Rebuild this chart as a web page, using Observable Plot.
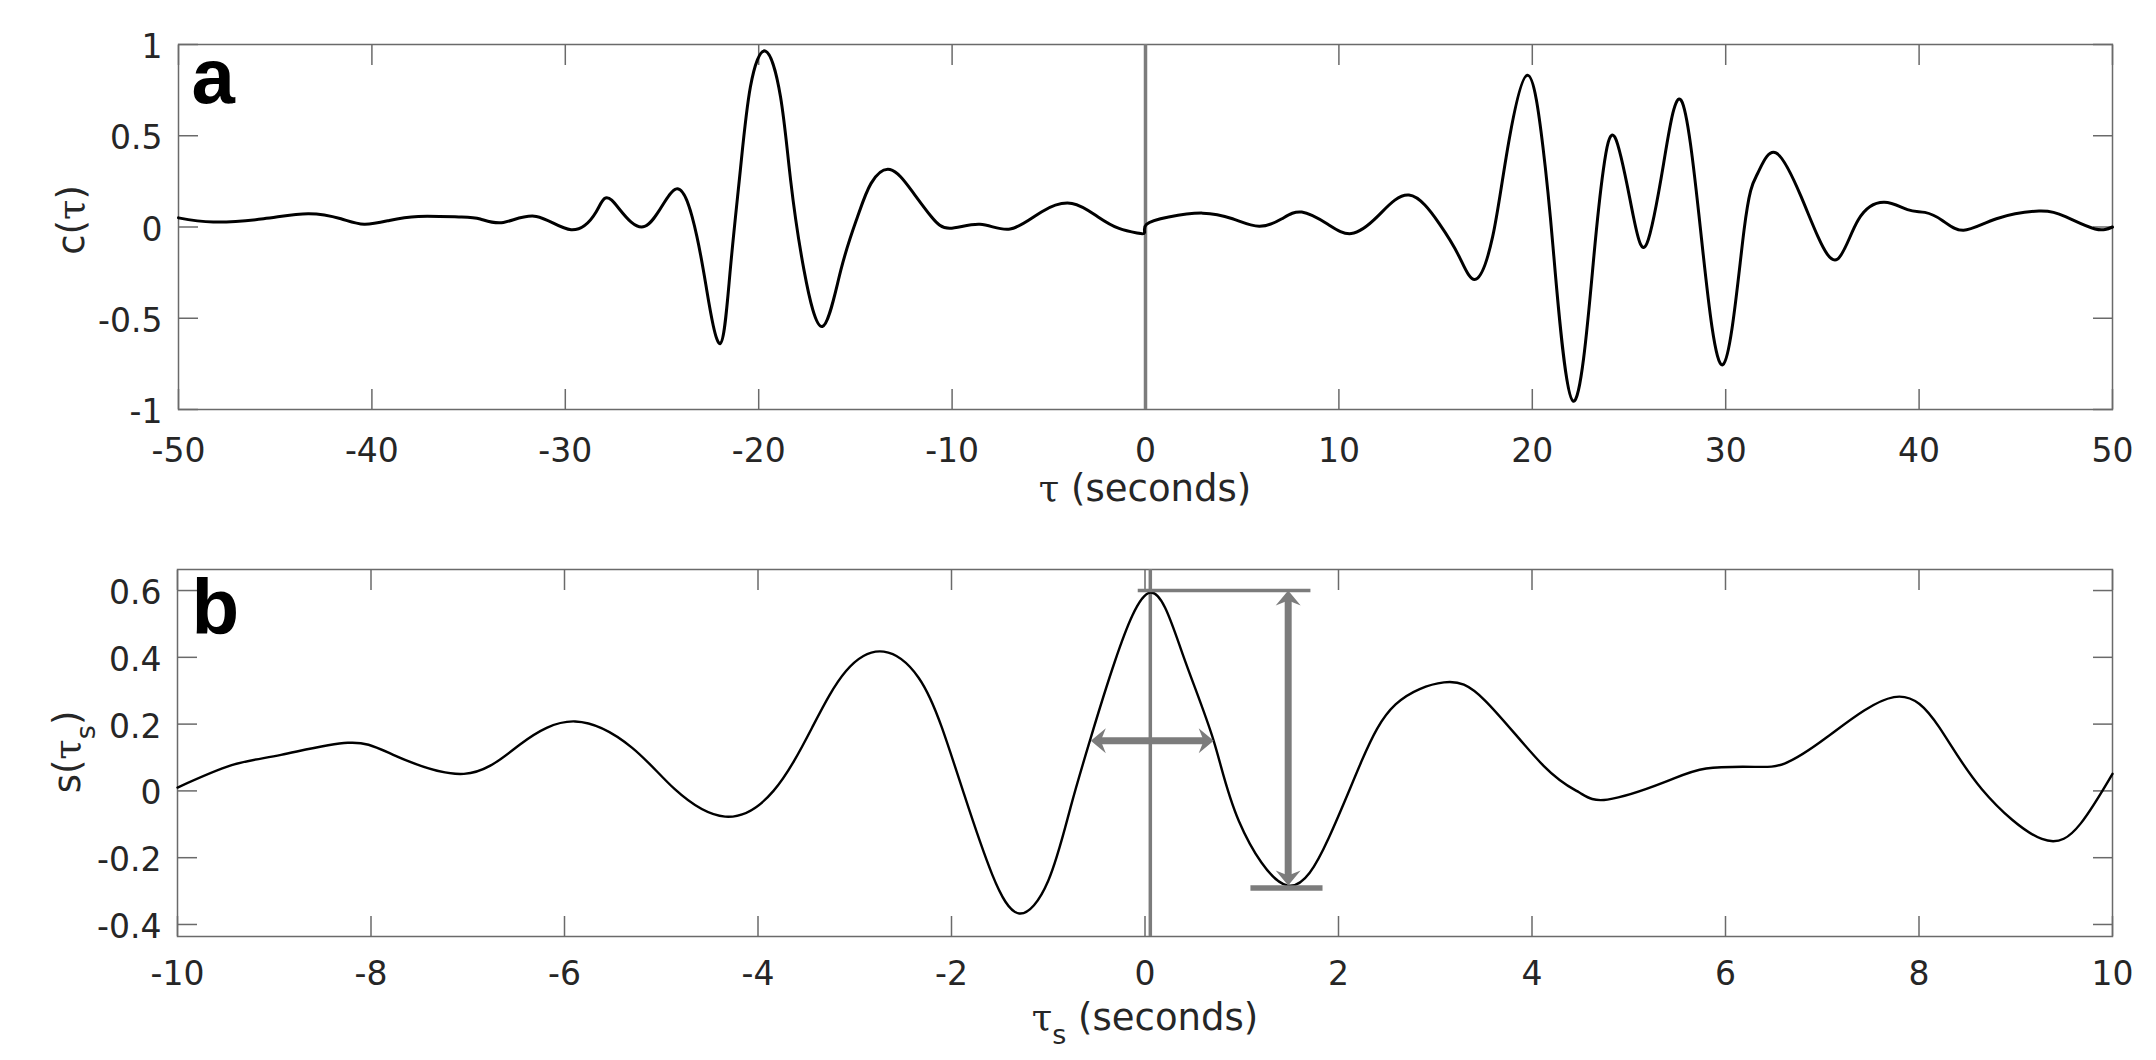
<!DOCTYPE html>
<html>
<head>
<meta charset="utf-8">
<script src="https://cdn.jsdelivr.net/npm/d3@7"></script>
<script src="https://cdn.jsdelivr.net/npm/@observablehq/plot@0.6"></script>
<style>
  html, body { margin: 0; padding: 0; background: #fff; }
  #chart { position: relative; width: 2156px; height: 1060px; overflow: hidden; background: #fff; }
  #chart svg { position: absolute; left: 0; }
</style>
</head>
<body>
<div id="chart"></div>
<script>
// ---------------- data ----------------
// Panel a: c(tau)
const tauA = [
  -50, -48.2, -45.6, -43.3, -41.6, -40.4, -39.1, -37.6, -35.5, -34.4,
  -33.2, -31.5, -29.7, -28.4, -27.6, -25.9, -24.25, -23.2, -22.69, -21.99,
  -21.47, -20.95, -20.43, -19.65, -18.87, -18.35, -17.66, -16.71, -15.75, -14.89,
  -14.19, -13.21, -12.11, -11.07, -10.12, -8.56, -7.0, -5.36, -3.8, -2.45,
  -1.37, -0.44, -0.05, 0.05, 1.2, 2.96, 4.5, 5.88, 7.05, 8.08,
  9.43, 10.64, 12.0, 13.62, 15.18, 16.22, 17.09, 17.95, 18.65, 19.74,
  20.55, 21.07, 22.11, 23.15, 23.67, 24.28, 25.23, 25.93, 26.79, 27.7,
  28.7, 29.86, 30.95, 31.65, 32.6, 33.9, 34.77, 35.77, 36.85, 38.2,
  39.4, 40.3, 41.2, 42.3, 44.0, 46.2, 47.6, 49.1, 50
];
const cA = [
  0.05, 0.027, 0.045, 0.073, 0.045, 0.015, 0.036, 0.058, 0.055, 0.044,
  0.025, 0.058, -0.015, 0.084, 0.147, 0.003, 0.209, -0.05, -0.344, -0.639,
  -0.235, 0.311, 0.767, 0.964, 0.712, 0.257, -0.235, -0.545, -0.235, 0.056,
  0.239, 0.315, 0.202, 0.056, -0.007, 0.015, -0.011, 0.084, 0.129, 0.055,
  -0.008, -0.033, -0.031, 0.015, 0.055, 0.076, 0.045, 0.004, 0.045, 0.082,
  0.015, -0.036, 0.058, 0.175, 0.02, -0.162, -0.286, -0.053, 0.384, 0.831,
  0.439, -0.107, -0.954, -0.199, 0.311, 0.49, 0.056, -0.089, 0.348, 0.694,
  -0.016, -0.754, -0.016, 0.293, 0.406, 0.166, -0.053, -0.177, 0.038, 0.135,
  0.095, 0.08, 0.036, -0.018, 0.045, 0.087, 0.055, -0.011, 0.0
];
// Panel b: s(tau_s)
const tauB = [
  -10, -9.44, -8.93, -8.24, -7.77, -7.04, -6.46, -5.89, -5.30, -4.86,
  -4.34, -3.84, -3.44, -3.09, -2.70, -2.34, -2.10, -1.87, -1.58, -1.30,
  -1.00, -0.77, -0.57, -0.31, 0.055, 0.39, 0.71, 0.97, 1.47, 1.90,
  2.24, 2.59, 3.09, 3.52, 4.12, 4.49, 4.78, 5.37, 5.80,
  6.31, 6.61, 7.04, 7.74, 8.21, 8.65, 9.27, 9.67, 10
];
const sB = [
  0.01, 0.077, 0.108, 0.144, 0.108, 0.051, 0.139, 0.208, 0.129, 0.005,
  -0.077, 0.0, 0.19, 0.359, 0.417, 0.339, 0.19, -0.01, -0.25, -0.367,
  -0.269, -0.05, 0.15, 0.389, 0.594, 0.409, 0.15, -0.09, -0.283, -0.14,
  0.09, 0.259, 0.325, 0.269, 0.075, -0.005, -0.026, 0.026, 0.067,
  0.072, 0.082, 0.159, 0.281, 0.19, 0.005, -0.144, -0.098, 0.051
];
// ticks and domains
const xTicksA = [-50, -40, -30, -20, -10, 0, 10, 20, 30, 40, 50];
const yTicksA = [-1, -0.5, 0, 0.5, 1];
const xDomainA = [-50, 50];
const yDomainA = [-1, 1];
const xTicksB = [-10, -8, -6, -4, -2, 0, 2, 4, 6, 8, 10];
const yTicksB = [-0.4, -0.2, 0, 0.2, 0.4, 0.6];
const xDomainB = [-10, 10];
const yDomainB = [-0.436, 0.663];
// reference lines and annotations (data units)
const zeroLineA = [0];
const peakLineB = [0.055];
const topBar = [{y: 0.6, x1: -0.07, x2: 1.715}];
const bottomBar = [{y: -0.291, x1: 1.095, x2: 1.84}];
const ampArrow = [{x: 1.48, y1: 0.6, y2: -0.283}];
const widthArrow = [{y: 0.15, x1: -0.56, x2: 0.71}];
const panelLabels = {a: "a", b: "b"};

// ---------------- styles ----------------
const W = 2156;
const frameColor = "#6a6a6a";
const textColor = "#262626";
const annoColor = "#7c7c7c";
const tickFont = "DejaVu Sans";
const fmt = d => String(d);

// filled arrowhead symbol (tip at the data point)
function arrowHead(angle) {
  return {
    draw(ctx) {
      const L = 15, Wd = 12.5, N = 10;
      const pts = [[0, 0], [Wd, L], [0, N], [-Wd, L]];
      const c = Math.cos(angle), s = Math.sin(angle);
      pts.forEach(([px, py], i) => {
        const x = px * c - py * s, y = px * s + py * c;
        if (i) ctx.lineTo(x, y); else ctx.moveTo(x, y);
      });
      ctx.closePath();
    }
  };
}
const headUp = arrowHead(0), headDown = arrowHead(Math.PI);
const headLeft = arrowHead(-Math.PI / 2), headRight = arrowHead(Math.PI / 2);

function boxAxes(xTicks, yTicks, padX, padY) {
  return [
    Plot.axisX({ticks: xTicks, tickSize: -20, fill: "none", stroke: frameColor, strokeWidth: 1.5}),
    Plot.axisX({anchor: "top", ticks: xTicks, tickSize: -20, fill: "none", stroke: frameColor, strokeWidth: 1.5}),
    Plot.axisY({ticks: yTicks, tickSize: -20, fill: "none", stroke: frameColor, strokeWidth: 1.5}),
    Plot.axisY({anchor: "right", ticks: yTicks, tickSize: -20, fill: "none", stroke: frameColor, strokeWidth: 1.5}),
    Plot.axisX({ticks: xTicks, tickSize: 0, tickPadding: padX, tickFormat: fmt, label: null, fill: textColor}),
    Plot.axisY({ticks: yTicks, tickSize: 0, tickPadding: padY, tickFormat: fmt, label: null, fill: textColor, dy: 3}),
    Plot.frame({stroke: frameColor, strokeWidth: 1.5})
  ];
}

const baseStyle = {fontFamily: tickFont, fontSize: "33px", color: textColor, background: "white", overflow: "visible"};

// ---------------- panel a ----------------
const rowsA = tauA.map((t, i) => ({t, c: cA[i]}));
const plotA = Plot.plot({
  width: W, height: 520,
  marginLeft: 178, marginRight: 44, marginTop: 44, marginBottom: 111,
  x: {domain: xDomainA},
  y: {domain: yDomainA},
  style: baseStyle,
  marks: [
    ...boxAxes(xTicksA, yTicksA, 29, 16),
    Plot.ruleX(zeroLineA, {stroke: annoColor, strokeWidth: 3.5}),
    Plot.line(rowsA, {x: "t", y: "c", curve: "natural", stroke: "#000", strokeWidth: 3}),
    Plot.text([panelLabels.a], {frameAnchor: "top-left", textAnchor: "start", lineAnchor: "bottom",
      dx: 13, dy: 58, fontSize: 78, fontWeight: "bold", fontFamily: "Liberation Sans", fill: "#000"})
  ]
});
plotA.style.top = "0px";

// ---------------- panel b ----------------
const rowsB = tauB.map((t, i) => ({t, s: sB[i]}));
const plotB = Plot.plot({
  width: W, height: 540,
  marginLeft: 177, marginRight: 44, marginTop: 49, marginBottom: 124,
  x: {domain: xDomainB},
  y: {domain: yDomainB},
  style: baseStyle,
  marks: [
    ...boxAxes(xTicksB, yTicksB, 25, 16),
    Plot.ruleX(peakLineB, {stroke: annoColor, strokeWidth: 3.5}),
    Plot.line(rowsB, {x: "t", y: "s", curve: "natural", stroke: "#000", strokeWidth: 2.4}),
    Plot.ruleY(topBar, {y: "y", x1: "x1", x2: "x2", stroke: annoColor, strokeWidth: 3.5}),
    Plot.ruleY(bottomBar, {y: "y", x1: "x1", x2: "x2", stroke: annoColor, strokeWidth: 5.5}),
    Plot.ruleX(ampArrow, {x: "x", y1: "y1", y2: "y2", insetTop: 9, insetBottom: 9, stroke: annoColor, strokeWidth: 7}),
    Plot.dot(ampArrow, {x: "x", y: "y1", symbol: headUp, r: 10, fill: annoColor, stroke: "none"}),
    Plot.dot(ampArrow, {x: "x", y: "y2", symbol: headDown, r: 10, fill: annoColor, stroke: "none"}),
    Plot.ruleY(widthArrow, {y: "y", x1: "x1", x2: "x2", insetLeft: 9, insetRight: 9, stroke: annoColor, strokeWidth: 7}),
    Plot.dot(widthArrow, {x: "x1", y: "y", symbol: headLeft, r: 10, fill: annoColor, stroke: "none"}),
    Plot.dot(widthArrow, {x: "x2", y: "y", symbol: headRight, r: 10, fill: annoColor, stroke: "none"}),
    Plot.text([panelLabels.b], {frameAnchor: "top-left", textAnchor: "start", lineAnchor: "bottom",
      dx: 14, dy: 64, fontSize: 78, fontWeight: "bold", fontFamily: "Liberation Sans", fill: "#000"})
  ]
});
plotB.style.top = "520px";

const chart = document.getElementById("chart");
chart.appendChild(plotA);
chart.appendChild(plotB);

// ---------------- axis titles (real text, with Greek tau and subscripts) ----------------
const labelSize = 37;
function addXLabel(svg, cx, baseline, sub) {
  const t = d3.select(svg).append("text")
    .attr("x", cx).attr("y", baseline)
    .attr("text-anchor", "middle")
    .attr("font-family", "DejaVu Sans").attr("font-size", labelSize).attr("fill", textColor);
  t.append("tspan").attr("font-family", "DejaVu Serif").text("τ");
  if (sub) {
    t.append("tspan").attr("dy", 14).attr("font-size", 27).text("s");
    t.append("tspan").attr("dy", -14).text("\u00a0(seconds)");
  } else {
    t.append("tspan").text(" (seconds)");
  }
}
function addYLabel(svg, bx, cy, fn, sub) {
  const t = d3.select(svg).append("text")
    .attr("transform", `translate(${bx},${cy}) rotate(-90)`)
    .attr("text-anchor", "middle")
    .attr("font-family", "DejaVu Sans").attr("font-size", labelSize).attr("fill", textColor);
  t.append("tspan").text(fn + "(");
  t.append("tspan").attr("font-family", "DejaVu Serif").text("τ");
  if (sub) {
    t.append("tspan").attr("dy", 15).attr("font-size", 27).text("s");
    t.append("tspan").attr("dy", -15).text(")");
  } else {
    t.append("tspan").text(")");
  }
}
addXLabel(plotA, 1145, 501, false);
addYLabel(plotA, 84, 220, "c", false);
addXLabel(plotB, 1145, 1030 - 520, true);
addYLabel(plotB, 80, 752 - 520, "s", true);
</script>
</body>
</html>
